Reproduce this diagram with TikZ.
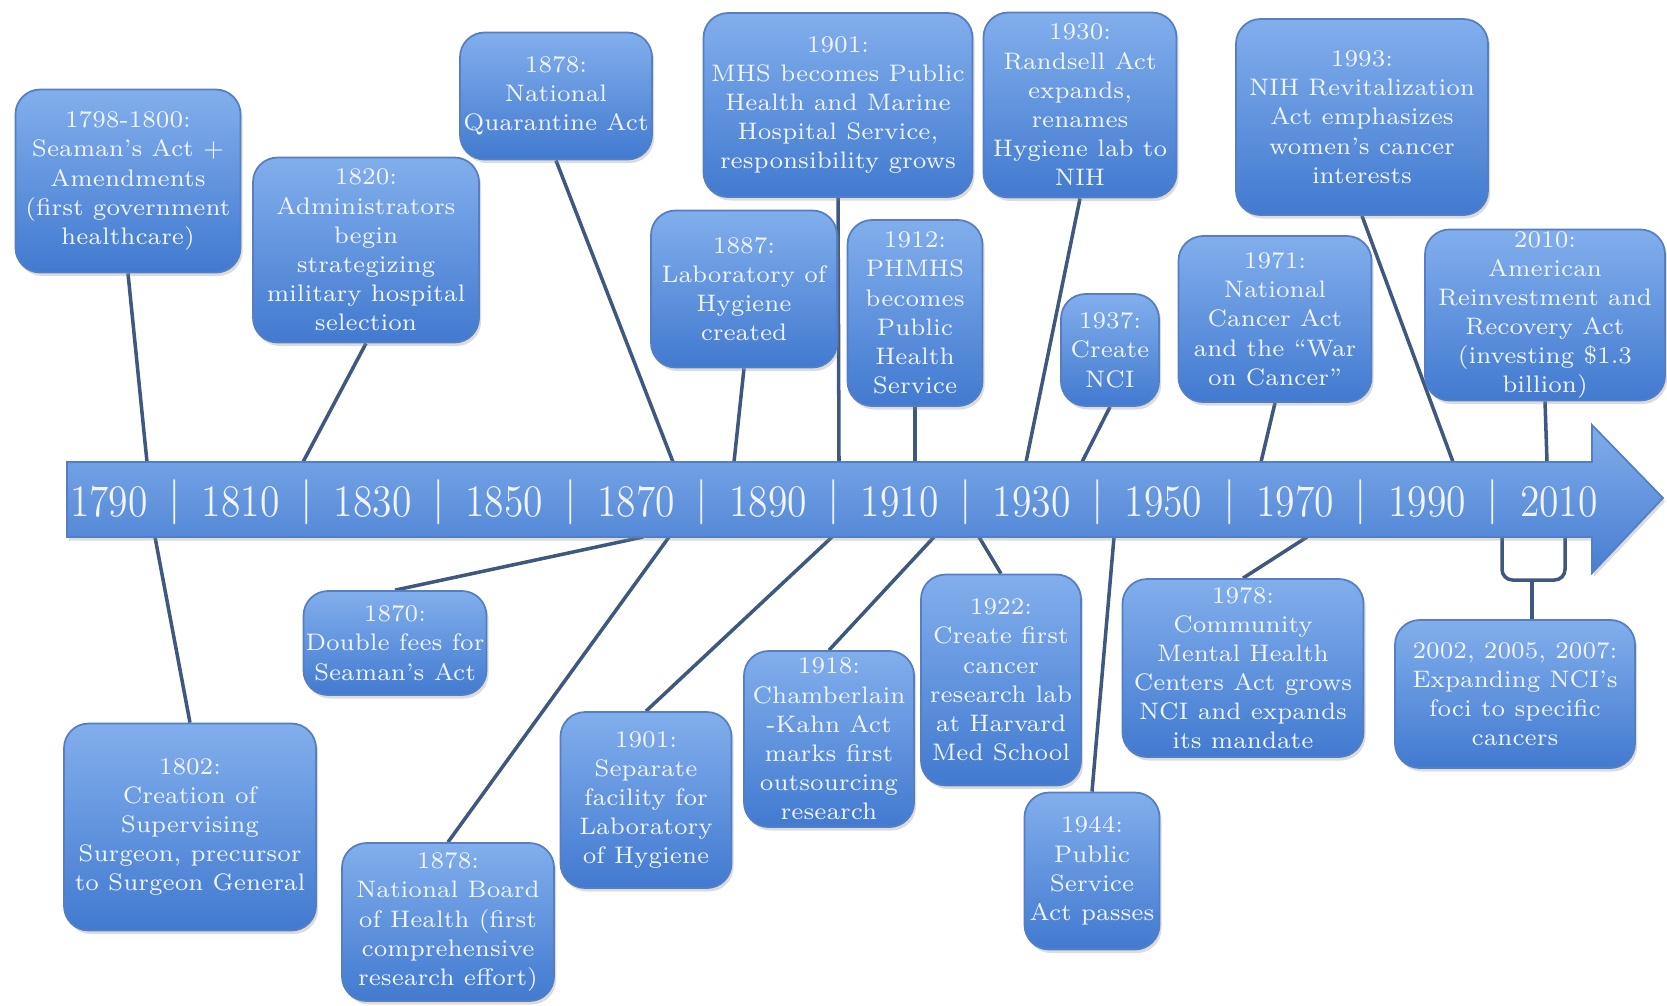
\documentclass[tikz,border=0pt]{standalone}
\usepackage{tikz}
\usetikzlibrary{shadows,backgrounds,calc}

\definecolor{boxtop}{RGB}{130,174,236}
\definecolor{boxbot}{RGB}{66,122,208}
\definecolor{boxline}{RGB}{86,126,194}
\definecolor{boxtext}{RGB}{240,245,255}
\definecolor{linkcol}{RGB}{62,88,128}
\definecolor{axtop}{RGB}{128,172,234}
\definecolor{axbot}{RGB}{72,126,210}

\tikzset{
	event/.style={draw=boxline, line width=0.5pt, rounded corners=7pt,
		top color=boxtop, bottom color=boxbot, text=boxtext, align=center,
		inner sep=0pt, font=\fontsize{6.8}{8.3}\selectfont,
		drop shadow={shadow xshift=0.6pt, shadow yshift=-1pt, opacity=0.3, fill=black!45}},
	link/.style={draw=linkcol, line width=1pt},
	yearlbl/.style={text=boxtext, inner sep=0pt, font=\fontsize{12.8}{14}\selectfont},
}
\newcommand{\eventbox}[6]{
	\node[event, minimum width=#4*0.01cm, minimum height=#5*0.01cm] (#1) at (#2,#3) {#6};
}

\begin{document}
\begin{tikzpicture}[x=0.01cm, y=-0.01cm]
	\useasboundingbox (0,0) rectangle (1667,1005);

	% above the time line
	\eventbox{b1798}{128}{181}{225}{183}{1798-1800:\\Seaman's Act +\\Amendments\\(first government\\healthcare)}
	\eventbox{b1820}{366}{250}{226}{185}{1820:\\Administrators\\begin\\strategizing\\military hospital\\selection}
	\eventbox{b1878q}{556}{96}{192}{127}{1878:\\National\\Quarantine Act}
	\eventbox{b1901m}{838}{105}{269}{184}{1901:\\MHS becomes Public\\Health and Marine\\Hospital Service,\\responsibility grows}
	\eventbox{b1887}{744}{289}{186}{157}{1887:\\Laboratory of\\Hygiene\\created}
	\eventbox{b1912}{915}{313}{135}{186}{1912:\\PHMHS\\becomes\\Public\\Health\\Service}
	\eventbox{b1930}{1080}{105}{193}{185}{1930:\\Randsell Act\\expands,\\renames\\Hygiene lab to\\NIH}
	\eventbox{b1937}{1110}{350}{98}{112}{1937:\\Create\\NCI}
	\eventbox{b1971}{1275}{319}{193}{166}{1971:\\National\\Cancer Act\\and the ``War\\on Cancer''}
	\eventbox{b1993}{1362}{117}{252}{196}{1993:\\NIH Revitalization\\Act emphasizes\\women's cancer\\interests}
	\eventbox{b2010}{1545}{315}{240}{171}{2010:\\American\\Reinvestment and\\Recovery Act\\(investing \$1.3\\billion)}

	% below the time line
	\eventbox{b1802}{190}{827}{252}{207}{1802:\\Creation of\\Supervising\\Surgeon, precursor\\to Surgeon General}
	\eventbox{b1870}{395}{643}{183}{104}{1870:\\Double fees for\\Seaman's Act}
	\eventbox{b1878n}{448}{922}{212}{158}{1878:\\National Board\\of Health (first\\comprehensive\\research effort)}
	\eventbox{b1901s}{646}{800}{171}{176}{1901:\\Separate\\facility for\\Laboratory\\of Hygiene}
	\eventbox{b1918}{829}{739}{170}{176}{1918:\\Chamberlain\\-Kahn Act\\marks first\\outsourcing\\research}
	\eventbox{b1922}{1001}{680}{160}{211}{1922:\\Create first\\cancer\\research lab\\at Harvard\\Med School}
	\eventbox{b1944}{1092}{871}{135}{157}{1944:\\Public\\Service\\Act passes}
	\eventbox{b1978}{1243}{668}{241}{178}{1978:\\Community\\Mental Health\\Centers Act grows\\NCI and expands\\its mandate}
	\eventbox{b2002}{1515}{694}{240}{148}{2002, 2005, 2007:\\Expanding NCI's\\foci to specific\\cancers}

	% time line arrow
	\draw[draw=boxline, line width=0.5pt, top color=axtop, bottom color=axbot,
		drop shadow={shadow xshift=0.6pt, shadow yshift=-1pt, opacity=0.3, fill=black!45}]
		(67,462) -- (1592,462) -- (1592,425) -- (1663,498) -- (1592,573) -- (1592,537) -- (67,537) -- cycle;
	\foreach \yr [count=\i from 0] in {1790,1810,1830,1850,1870,1890,1910,1930,1950,1970,1990,2010}
		\node[yearlbl] (y\yr) at (109+131.8*\i,502) {\scalebox{0.88}[1]{\yr}};
	\foreach \i in {0,...,10}
		\node[yearlbl] (bar\i) at (175+131.8*\i,502) {\textbar};

	% where the links meet the arrow
	\foreach \n/\x in {t1798/147, t1820/303, t1878q/673, t1887/734, t1901m/839, t1912/915,
		t1930/1026, t1937/1082, t1971/1261, t1993/1453, t2010/1547}
		\coordinate (\n) at (\x,462);
	\foreach \n/\x in {u1802/155, u1870/643, u1878n/669, u1901s/832, u1918/934,
		u1922/979, u1944/1114, u1978/1307, ul2002/1502, ur2002/1565}
		\coordinate (\n) at (\x,537);
	\coordinate (brl) at (1502,580);
	\coordinate (brr) at (1565,580);
	\coordinate (brk) at (1532,580);

	\begin{scope}[on background layer]
		\foreach \n in {1798,1820,1878q,1887,1901m,1912,1930,1937,1971,1993,2010}
			\draw[link] (b\n.south) -- (t\n);
		\foreach \n in {1802,1870,1878n,1901s,1918,1922,1944,1978}
			\draw[link] (b\n.north) -- (u\n);
		\draw[link, rounded corners=3pt] (ul2002) -- (brl) -- (brr) -- (ur2002);
		\draw[link] (brk) -- (brk |- b2002.north);
	\end{scope}
\end{tikzpicture}
\end{document}
